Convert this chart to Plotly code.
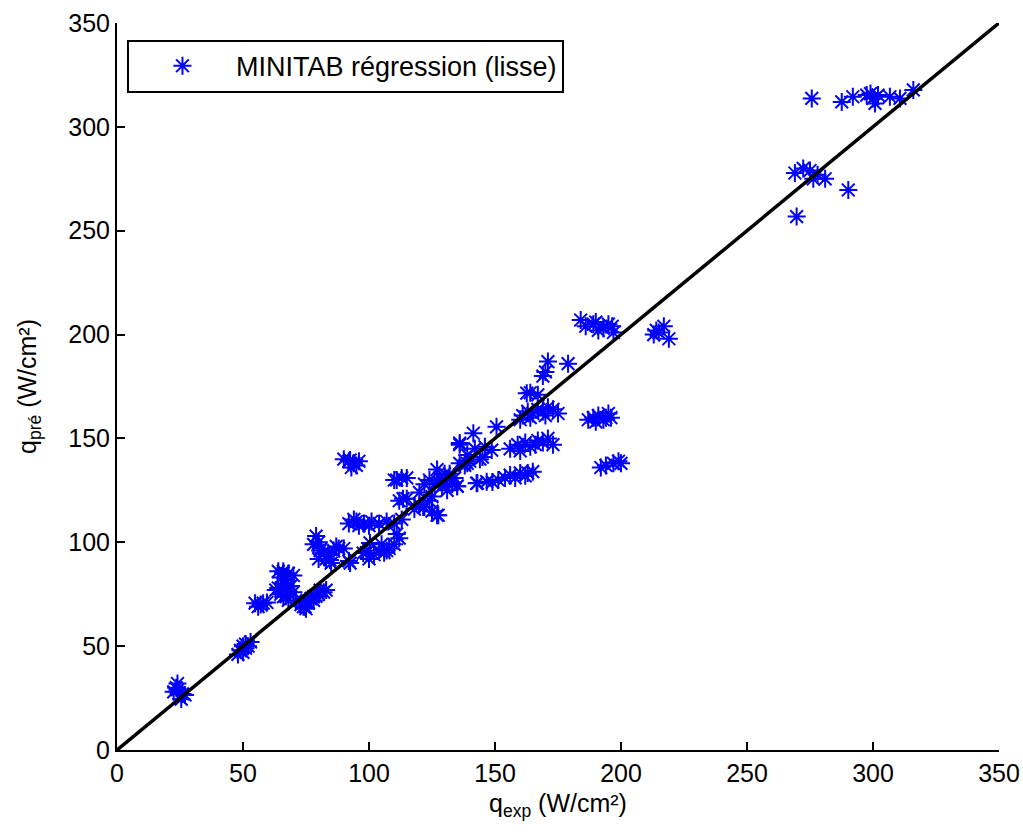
import plotly.graph_objects as go

# Experimental heat flux (W/cm²)
q_exp = [
    24, 22.5, 25.5, 27, 24, 26, 23.5,
    49, 50, 51, 52, 53, 48, 50, 51,
    54.8, 57, 58, 59.5, 56,
    64, 66, 68, 65, 67, 70, 66, 69, 64, 70, 67, 65, 71, 68, 63, 66, 67.4, 66,
    73, 74.6, 75, 76, 78, 78, 79, 80, 80.6, 82, 83, 77, 74,
    79, 80, 81, 80.6, 82, 84, 86, 87, 88, 90, 84.5, 83, 80, 85, 78, 92.5, 92, 97.7,
    90, 92, 92.5, 94, 95, 96, 93,
    92, 95, 98, 101, 104, 107, 110, 113, 100, 96, 94,
    99, 100.4, 102, 104, 106, 107, 108, 100, 110, 105, 112, 111,
    110, 111, 113, 115, 112, 113.5, 115,
    118, 120, 121.5, 122, 124, 125, 126, 127, 128, 130, 129, 131, 133, 135, 134, 136,
    138, 139, 140, 139, 142, 136, 136, 144, 127, 127.5, 125, 120, 122, 124, 132, 130,
    141.4, 145, 148.7, 150.6, 143, 135, 146,
    142.7, 146.7, 149, 151.3, 154, 156, 158, 160, 162, 163, 165,
    156, 159, 160, 162, 164, 166, 167, 169, 171, 173, 160,
    161, 163, 164, 165, 167, 169, 170, 171, 173, 175,
    162.6, 164, 167, 169, 170, 171, 179,
    184, 186, 189, 190, 191, 193, 195, 196.5, 197,
    213, 214, 215, 217, 219,
    187, 189, 190, 191, 193, 194, 195, 196,
    192, 194, 197, 199, 200,
    275.7, 287.6, 292, 297.5, 300, 300.8, 302, 299, 306.7, 310.7, 316,
    269, 272.3, 275, 276.3, 281, 278, 290.2, 269.7,
]

# Predicted heat flux (W/cm²)
q_pre = [
    32, 28, 24.5, 26.5, 29, 27, 30,
    48, 50, 51, 50, 52, 46, 47, 49,
    70.7, 70, 70.7, 71, 69,
    86, 86, 85, 83, 82, 84, 80, 79, 78, 76, 74, 75, 72, 72, 77, 85, 78.6, 73.8,
    70, 69, 68, 71, 72, 73.8, 74, 75, 77, 76, 77, 73, 69,
    103, 100, 97, 96, 95, 94, 96, 98, 97, 97, 91.5, 92, 92, 90, 99, 90, 91, 94.8,
    140, 139, 139.6, 138, 137, 139, 136,
    109, 110, 109, 110, 109, 110, 109, 111, 108, 108, 111,
    95, 99.7, 94, 96, 95, 96, 97, 92, 99, 99, 102, 104,
    130, 130, 131, 131, 120, 121, 121,
    116, 118, 117, 117, 120, 122, 128, 135, 131, 133, 127, 125, 128, 127, 131, 138,
    137, 138, 139, 142, 145, 147, 147.8, 140, 113, 113, 115, 124, 128, 130, 133, 130,
    152.5, 141, 144.4, 155.6, 128.5, 127, 146,
    128.4, 129.2, 129, 130, 131, 132.4, 131, 133.4, 132, 133.4, 134,
    145, 147, 144, 148, 146, 147, 149, 148, 150, 147, 159,
    161, 163, 160, 162, 164, 163, 161, 165, 164, 162,
    171.8, 172, 171, 180, 182, 187, 186,
    207, 204, 205, 206, 202, 203, 205, 204, 201,
    200, 202, 201, 204, 198,
    159, 160, 158, 161, 159, 160, 162, 160,
    136, 137, 138, 139, 138,
    313.7, 312, 314.5, 315.3, 313.7, 311.3, 315.3, 316, 314.5, 313.7, 317.8,
    277.8, 280, 279, 275, 275, 277, 269.6, 256.8,
]

# Bisector (perfect agreement line)
diag = [0, 350]

series_name = "MINITAB régression (lisse)"
x_ticks = [0, 50, 100, 150, 200, 250, 300, 350]
y_ticks = [0, 50, 100, 150, 200, 250, 300, 350]

FONT = "Liberation Sans, Arial, sans-serif"

fig = go.Figure()
fig.add_trace(go.Scatter(
    x=q_exp, y=q_pre, mode="markers", name=series_name,
    marker=dict(symbol="asterisk-open", size=15, color="#0000ff",
                line=dict(color="#0000ff", width=2)),
))
fig.add_trace(go.Scatter(
    x=diag, y=diag, mode="lines", showlegend=False,
    line=dict(color="black", width=3.5),
))

axis_common = dict(
    showgrid=False, zeroline=False, showline=True, linecolor="black",
    linewidth=2, ticks="inside", ticklen=8, tickwidth=1.5, tickcolor="black",
    range=[0, 350], tickfont=dict(size=25, color="black", family=FONT),
    mirror=False, automargin=False,
)

fig.update_layout(
    width=1023, height=837,
    margin=dict(l=117, r=24, t=23, b=87),
    paper_bgcolor="white", plot_bgcolor="white",
    font=dict(family=FONT, color="black", size=25),
    xaxis=dict(**axis_common, tickvals=x_ticks,
               title=dict(text="q<sub>exp</sub> (W/cm²)", font=dict(size=25), standoff=8)),
    yaxis=dict(**axis_common, tickvals=y_ticks,
               title=dict(text="q<sub>pré</sub> (W/cm²)", font=dict(size=25), standoff=25)),
    legend=dict(x=0.0113, y=0.977, xanchor="left", yanchor="top",
                bgcolor="white", bordercolor="black", borderwidth=2,
                font=dict(size=27, family=FONT, color="black"),
                itemwidth=97),
)

fig.write_html("out.html")
